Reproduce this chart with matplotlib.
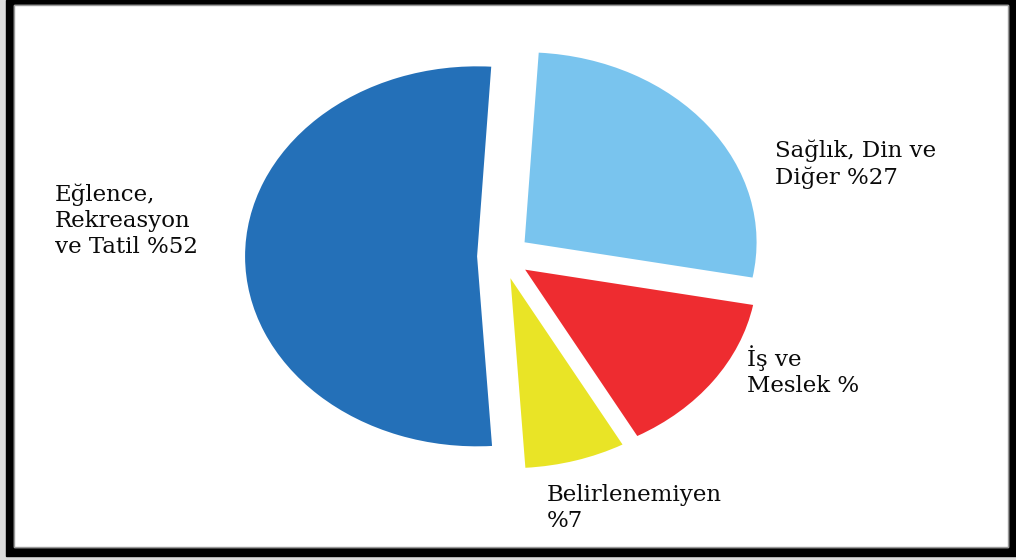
import matplotlib.pyplot as plt
from matplotlib.patches import Rectangle

W, H = 1016, 560

# slice data, counter-clockwise from the top
categories = ["Eğlence,\nRekreasyon\nve Tatil %52",
              "Belirlenemiyen\n%7",
              "İş ve\nMeslek %",
              "Sağlık, Din ve\nDiğer %27"]
shares = [52, 7, 14, 27]
colors = ["#2470B8", "#E9E426", "#EE2C30", "#79C4EE"]
explode = [0.11, 0.12, 0.12, 0.12]

# label anchor (px from top-left, baseline of the last line)
label_pos = [(55, 253), (547, 527), (747, 392), (775, 184)]

# pie geometry in pixels (the picture is stretched horizontally)
cx, cy = 502.6, 256.3
rx, ry = 232.0, 190.0


def fx(px):
    return px / W


def fy(py):
    return 1 - py / H


fig = plt.figure(figsize=(W / 100, H / 100), dpi=100)
fig.patch.set_facecolor("#dcdcdc")

# black frame + white inner area
fig.add_artist(Rectangle((fx(6), fy(556)), fx(1010), 556 / H,
                         transform=fig.transFigure, color="black", zorder=-10))
fig.add_artist(Rectangle((fx(14), fy(547)), fx(994), 542 / H,
                         transform=fig.transFigure, color="white", zorder=-9))
fig.add_artist(Rectangle((fx(14), fy(547)), fx(994), 542 / H,
                         transform=fig.transFigure, fill=False,
                         edgecolor="#9a9a9a", linewidth=1, zorder=-8))

ax = fig.add_axes([0, 0, 1, 1])
ax.patch.set_alpha(0)
ax.pie(shares, colors=colors, explode=explode, startangle=86.5,
       counterclock=True, wedgeprops=dict(linewidth=0))
ax.set_aspect("auto")
ax.set_xlim(-cx / rx, (W - cx) / rx)
ax.set_ylim(-(H - cy) / ry, cy / ry)
ax.axis("off")

for text, (px, py) in zip(categories, label_pos):
    fig.text(fx(px), fy(py), text, ha="left", va="baseline",
             fontfamily="DejaVu Serif", fontsize=16.5, linespacing=1.25,
             color="#0a0a0a", zorder=5)

fig.savefig("out.png", dpi=100)
